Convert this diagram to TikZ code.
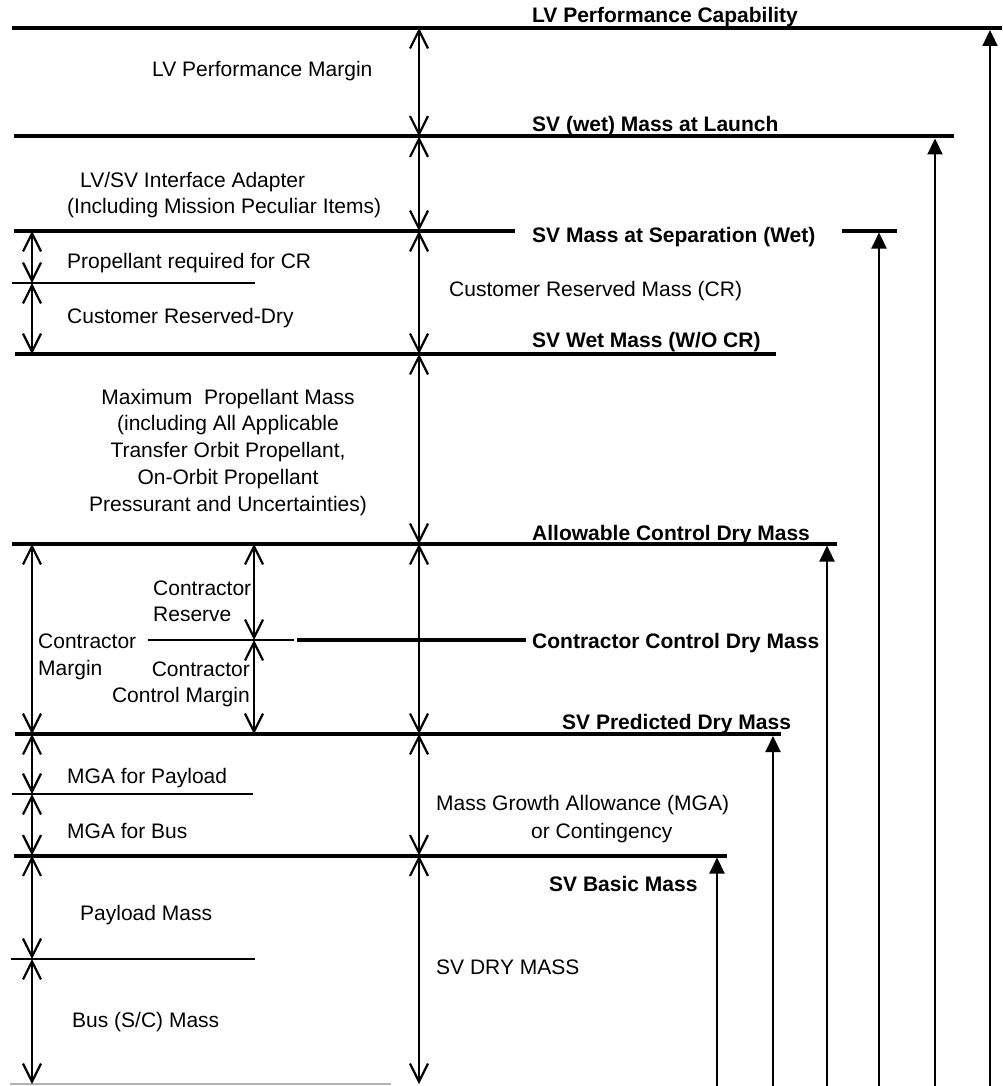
\documentclass[tikz,border=0pt]{standalone}
\usepackage{fontspec}
\setmainfont{Liberation Sans}
\usetikzlibrary{arrows.meta}
\begin{document}
\begin{tikzpicture}[x=1pt,y=-1pt,
  lvl/.style={line width=4pt},
  midlvl/.style={line width=3.2pt},
  thinlvl/.style={line width=2pt},
  dimline/.style={line width=2.2pt,{Straight Barb[length=18pt,width=18pt]}-{Straight Barb[length=18pt,width=18pt]}},
  uparrow/.style={line width=2.2pt,-{Triangle[length=16pt,width=15pt]}},
  lbl/.style={inner sep=0pt,anchor=base west,font=\fontsize{21}{26}\selectfont},
  blbl/.style={lbl,font=\fontsize{21}{26}\selectfont\bfseries},
]
\useasboundingbox (0,0) rectangle (1002,1086);
\fill[white] (0,0) rectangle (1002,1086);

% ---------- main axis coordinates (x = 419)
\coordinate (m1) at (419,28);
\coordinate (m2) at (419,136.5);
\coordinate (m3) at (419,231);
\coordinate (m5) at (419,354);
\coordinate (m6) at (419,544);
\coordinate (m8) at (419,734);
\coordinate (m10) at (419,855.5);
\coordinate (m12) at (419,1084);
% ---------- left axis (x = 32)
\coordinate (a3) at (32,231);
\coordinate (a4) at (32,283);
\coordinate (a5) at (32,354);
\coordinate (a6) at (32,544);
\coordinate (a8) at (32,734);
\coordinate (a9) at (32,794);
\coordinate (a10) at (32,855.5);
\coordinate (a11) at (32,959);
\coordinate (a12) at (32,1084);
% ---------- contractor axis (x = 254)
\coordinate (c6) at (254,544);
\coordinate (c7) at (254,640);
\coordinate (c8) at (254,734);

% ---------- horizontal level lines
\coordinate (h1a) at (12,28);    \coordinate (h1b) at (1002,28);
\coordinate (h2a) at (14,136.5); \coordinate (h2b) at (954,136.5);
\coordinate (h3a) at (14,231);   \coordinate (h3b) at (515,231);
\coordinate (h3c) at (842,231);  \coordinate (h3d) at (897,231);
\coordinate (h4a) at (12,283);   \coordinate (h4b) at (255,283);
\coordinate (h5a) at (15,354);   \coordinate (h5b) at (776,354);
\coordinate (h6a) at (12,544);   \coordinate (h6b) at (837,544);
\coordinate (h7a) at (148,640);  \coordinate (h7b) at (294,640);
\coordinate (h7c) at (297,640);  \coordinate (h7d) at (526,640);
\coordinate (h8a) at (15,734);   \coordinate (h8b) at (781,734);
\coordinate (h9a) at (12,794);   \coordinate (h9b) at (253,794);
\coordinate (h10a) at (14,855.5);\coordinate (h10b) at (727,855.5);
\coordinate (h11a) at (11,959);  \coordinate (h11b) at (255,959);
\coordinate (h12a) at (10,1084); \coordinate (h12b) at (391,1084);

\draw[lvl] (h1a) -- (h1b);
\draw[lvl] (h2a) -- (h2b);
\draw[midlvl] (h3a) -- (h3b);
\draw[midlvl] (h3c) -- (h3d);
\draw[thinlvl] (h4a) -- (h4b);
\draw[lvl] (h5a) -- (h5b);
\draw[midlvl] (h6a) -- (h6b);
\draw[thinlvl] (h7a) -- (h7b);
\draw[midlvl] (h7c) -- (h7d);
\draw[lvl] (h8a) -- (h8b);
\draw[thinlvl] (h9a) -- (h9b);
\draw[lvl] (h10a) -- (h10b);
\draw[thinlvl] (h11a) -- (h11b);
\draw[thinlvl,gray!60] (h12a) -- (h12b);

% ---------- dimension arrows
\draw[dimline] (m1) -- (m2);
\draw[dimline] (m2) -- (m3);
\draw[dimline] (m3) -- (m5);
\draw[dimline] (m5) -- (m6);
\draw[dimline] (m6) -- (m8);
\draw[dimline] (m8) -- (m10);
\draw[dimline] (m10) -- (m12);

\draw[dimline] (a3) -- (a4);
\draw[dimline] (a4) -- (a5);
\draw[dimline] (a6) -- (a8);
\draw[dimline] (a8) -- (a9);
\draw[dimline] (a9) -- (a10);
\draw[dimline] (a10) -- (a11);
\draw[dimline] (a11) -- (a12);

\draw[dimline] (c6) -- (c7);
\draw[dimline] (c7) -- (c8);

% ---------- right-hand cumulative arrows
\coordinate (r1s) at (990,1086); \coordinate (r1e) at (990,30);
\coordinate (r2s) at (935,1086); \coordinate (r2e) at (935,138.5);
\coordinate (r3s) at (879,1086); \coordinate (r3e) at (879,232.5);
\coordinate (r4s) at (827,1086); \coordinate (r4e) at (827,545.5);
\coordinate (r5s) at (773,1086); \coordinate (r5e) at (773,736);
\coordinate (r6s) at (717,1086); \coordinate (r6e) at (717,857.5);
\draw[uparrow] (r1s) -- (r1e);
\draw[uparrow] (r2s) -- (r2e);
\draw[uparrow] (r3s) -- (r3e);
\draw[uparrow] (r4s) -- (r4e);
\draw[uparrow] (r5s) -- (r5e);
\draw[uparrow] (r6s) -- (r6e);

% ---------- bold level labels
\node[blbl] (t1) at (532,23) {LV Performance Capability};
\node[blbl] (t2) at (532,132) {SV (wet) Mass at Launch};
\node[blbl] (t3) at (532,242) {SV Mass at Separation (Wet)};
\node[blbl] (t5) at (532,347) {SV Wet Mass (W/O CR)};
\node[blbl] (t6) at (532,540) {Allowable Control Dry Mass};
\node[blbl] (t7) at (532,648) {Contractor Control Dry Mass};
\node[blbl] (t8) at (562,729) {SV Predicted Dry Mass};
\node[blbl] (t10) at (549,891) {SV Basic Mass};

% ---------- regular labels (multi-line nodes: base = last line)
\node[lbl] (lvm) at (152,77) {LV Performance Margin};
\node[lbl,align=left] (adp) at (67,213) {\hspace{13pt}LV/SV Interface Adapter\\(Including Mission Peculiar Items)};
\node[lbl] (pcr) at (67,268) {Propellant required for CR};
\node[lbl] (crd) at (67,323) {Customer Reserved-Dry};
\node[lbl] (crm) at (449,296) {Customer Reserved Mass (CR)};
\node[lbl,anchor=base,align=center,font=\fontsize{21}{26.75}\selectfont] (mpm) at (228,511)
  {Maximum\ \ Propellant Mass\\(including All Applicable\\Transfer Orbit Propellant,\\On-Orbit Propellant\\Pressurant and Uncertainties)};
\node[lbl,align=left] (cres) at (153,621) {Contractor\\Reserve};
\node[lbl,align=left,font=\fontsize{21}{27}\selectfont] (cmar) at (38,675) {Contractor\\Margin};
\node[lbl,anchor=base east,align=right] (ccm) at (250,702) {Contractor\\Control Margin};
\node[lbl] (mgap) at (67,783) {MGA for Payload};
\node[lbl] (mgab) at (67,838) {MGA for Bus};
\node[lbl,align=left,font=\fontsize{21}{28}\selectfont] (mga) at (436,838) {Mass Growth Allowance (MGA)\\\hspace{95pt}or Contingency};
\node[lbl] (plm) at (80,920) {Payload Mass};
\node[lbl] (svd) at (436,974) {SV DRY MASS};
\node[lbl] (bus) at (72,1027) {Bus (S/C) Mass};
\end{tikzpicture}
\end{document}
